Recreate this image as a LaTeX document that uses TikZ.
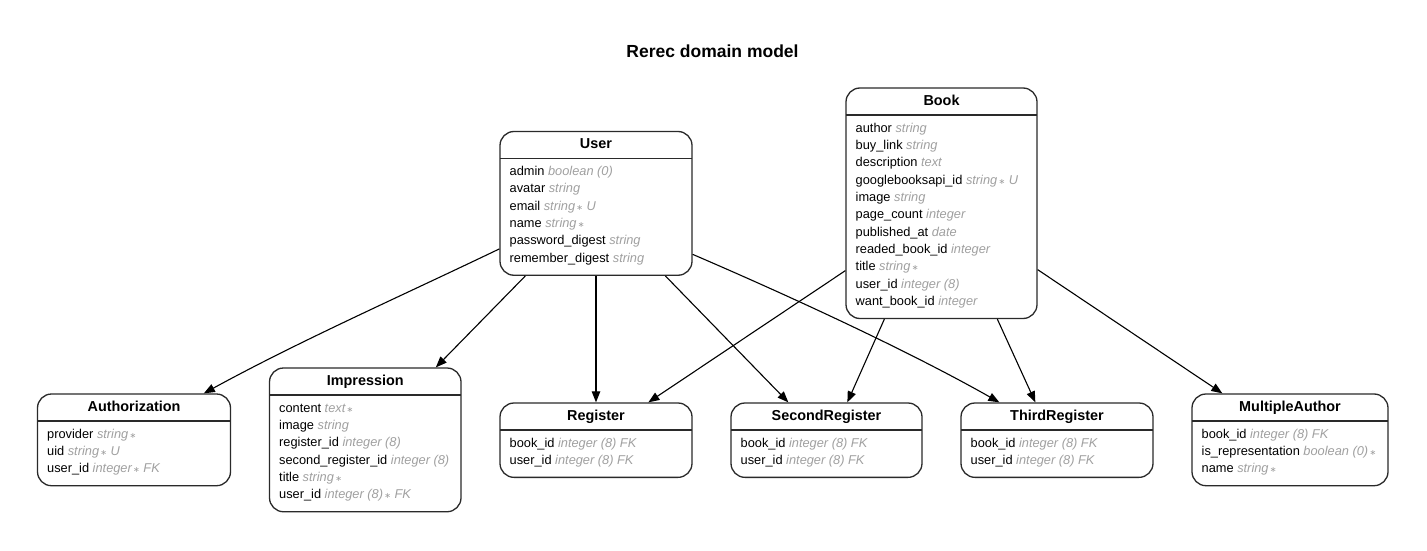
\documentclass[tikz,border=0pt]{standalone}
\usepackage{fontspec}
\setmainfont{Liberation Sans}
\newfontfamily\symf{DejaVu Sans}
\usetikzlibrary{arrows.meta,calc}
\definecolor{typegray}{HTML}{A0A0A0}
\definecolor{boxline}{HTML}{2A2A2A}
\newcommand\ty[1]{{\itshape\color{typegray}#1}}
\newcommand\reqmark{{\symf\fontsize{8}{8}\selectfont\,∗}}
\tikzset{
  ebox/.style={draw=boxline, line width=1.3pt, rounded corners=14pt, fill=white, inner sep=0pt},
  ehead/.style={anchor=base, inner sep=0pt, font=\bfseries\fontsize{14.4}{16}\selectfont},
  erow/.style={anchor=base west, inner sep=0pt, font=\fontsize{12.8}{15}\selectfont},
  eline/.style={draw=boxline, line width=1.2pt},
  rel/.style={draw=black, line width=1.1pt, -{Triangle[length=11pt,width=8.5pt]}},
  titlestyle/.style={anchor=base, inner sep=0pt, font=\bfseries\fontsize{17.5}{20}\selectfont}
}
\newcommand\entity[7]{%
  \pgfmathsetmacro\eb{#4+57+17.35*(#5-1)}%
  \pgfmathsetmacro\ecx{(#2+#3)/2}%
  \pgfmathsetmacro\ecy{(#4+\eb)/2}%
  \pgfmathsetmacro\ew{#3-#2}%
  \pgfmathsetmacro\eh{\eb-#4}%
  \node[ebox, minimum width=\ew pt, minimum height=\eh pt] (#1) at (\ecx,\ecy) {};
  \node[ehead] (#1-h) at (\ecx,#4+17) {#6};
  \draw[eline] (#2,#4+27) -- (#3,#4+27);
  \foreach \r [count=\i] in {#7} {\node[erow] (#1-\i) at (#2+9.5,#4+44+17.35*\i-17.35) {\r};}
}
\begin{document}
\begin{tikzpicture}[x=1pt,y=-1pt]
\useasboundingbox[fill=white] (0,0) rectangle (1427,551);
\node[titlestyle] (title) at (712.5,57.5) {Rerec domain model};

\entity{User}{500}{692}{131.5}{6}{User}{%
 {admin \ty{boolean (0)}},{avatar \ty{string}},{email \ty{string\reqmark\ U}},{name \ty{string\reqmark}},{password\_digest \ty{string}},{remember\_digest \ty{string}}}
\entity{Book}{846}{1037}{88}{11}{Book}{%
 {author \ty{string}},{buy\_link \ty{string}},{description \ty{text}},{googlebooksapi\_id \ty{string\reqmark\ U}},{image \ty{string}},{page\_count \ty{integer}},{published\_at \ty{date}},{readed\_book\_id \ty{integer}},{title \ty{string\reqmark}},{user\_id \ty{integer (8)}},{want\_book\_id \ty{integer}}}
\entity{Auth}{37.5}{230.5}{394}{3}{Authorization}{%
 {provider \ty{string\reqmark}},{uid \ty{string\reqmark\ U}},{user\_id \ty{integer\reqmark\ FK}}}
\entity{Imp}{269.5}{461}{368}{6}{Impression}{%
 {content \ty{text\reqmark}},{image \ty{string}},{register\_id \ty{integer (8)}},{second\_register\_id \ty{integer (8)}},{title \ty{string\reqmark}},{user\_id \ty{integer (8)\reqmark\ FK}}}
\entity{Reg}{500}{692}{403}{2}{Register}{%
 {book\_id \ty{integer (8) FK}},{user\_id \ty{integer (8) FK}}}
\entity{SReg}{731}{922}{403}{2}{SecondRegister}{%
 {book\_id \ty{integer (8) FK}},{user\_id \ty{integer (8) FK}}}
\entity{TReg}{961}{1153}{403}{2}{ThirdRegister}{%
 {book\_id \ty{integer (8) FK}},{user\_id \ty{integer (8) FK}}}
\entity{MA}{1192}{1388}{394}{3}{MultipleAuthor}{%
 {book\_id \ty{integer (8) FK}},{is\_representation \ty{boolean (0)\reqmark}},{name \ty{string\reqmark}}}

% connectors
\draw[rel] ($(User.south west)+(0,-27)$) .. controls +(-100,48) and +(95,-52) .. ($(Auth.north west)+(167,0)$);
\draw[rel] ($(User.south west)+(26,0)$) -- ($(Imp.north west)+(167,0)$);
\draw[rel] (User.south) -- (Reg.north);
\draw[rel] ($(User.south west)+(166,0)$) -- ($(SReg.north west)+(58,0)$);
\draw[rel] ($(User.north east)+(0,123.5)$) .. controls +(100,43) and +(-90,-51) .. ($(TReg.north west)+(39,0)$);
\draw[rel] ($(Book.south west)+(0,-48.5)$) -- ($(Reg.north west)+(149,0)$);
\draw[rel] ($(Book.south west)+(39,0)$) -- ($(SReg.north west)+(117,0)$);
\draw[rel] ($(Book.south west)+(152,0)$) -- ($(TReg.north west)+(75,0)$);
\draw[rel] ($(Book.south east)+(0,-49.5)$) -- ($(MA.north west)+(31,0)$);
\end{tikzpicture}
\end{document}
